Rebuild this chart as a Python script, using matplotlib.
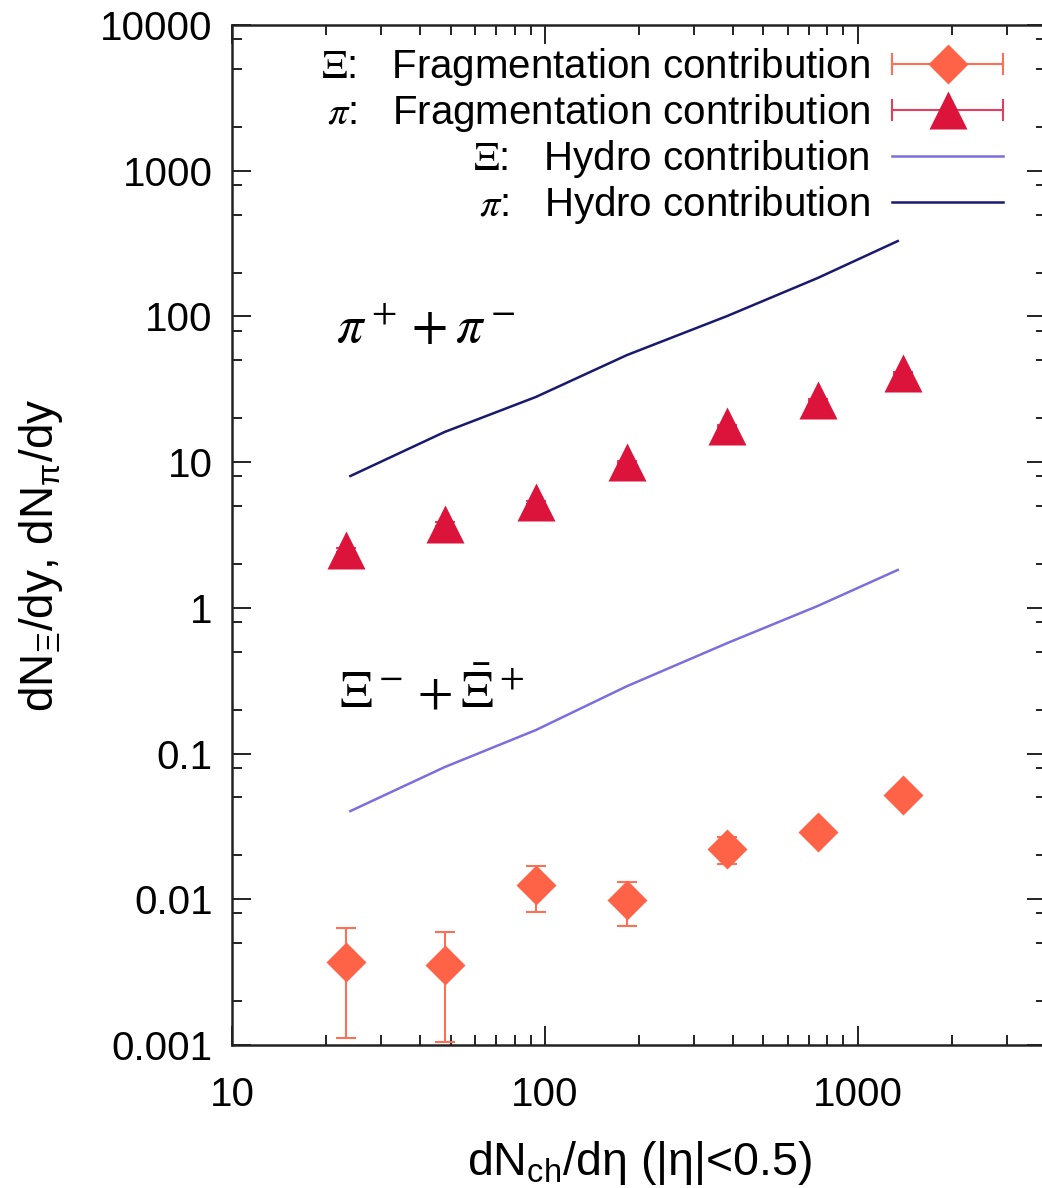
import matplotlib
matplotlib.use('Agg')
import matplotlib.pyplot as plt
from matplotlib.lines import Line2D
from matplotlib.legend_handler import HandlerBase
from matplotlib.font_manager import FontProperties
from matplotlib.ticker import LogLocator, NullFormatter

plt.rcParams['font.family'] = ['Liberation Sans', 'DejaVu Sans']
plt.rcParams['mathtext.fontset'] = 'custom'
plt.rcParams['mathtext.rm'] = 'Liberation Sans'
plt.rcParams['mathtext.it'] = 'Liberation Sans:italic'
plt.rcParams['mathtext.bf'] = 'Liberation Sans:bold'

# ---------------- data ----------------
dnch = [23.2, 47.8, 93.6, 183, 383, 745, 1394]
xi_frag = [0.00371, 0.00353, 0.0125, 0.00988, 0.0221, 0.0289, 0.0519]
xi_frag_err = [0.0026, 0.00248, 0.0043, 0.0033, 0.0046, 0.0022, 0.0030]
pi_frag = [2.49, 3.76, 5.32, 10.0, 17.7, 26.7, 40.9]
pi_frag_err = [0.08, 0.10, 0.13, 0.20, 0.30, 0.40, 0.55]
hydro_dnch = [23.9, 47.8, 93.6, 183, 383, 745, 1343]
xi_hydro = [0.0403, 0.0807, 0.145, 0.290, 0.573, 1.03, 1.82]
pi_hydro = [8.03, 16.1, 28.0, 54.3, 100.7, 183.5, 329]

xticks = [10, 100, 1000]
xticklabels = ['10', '100', '1000']
yticks = [0.001, 0.01, 0.1, 1, 10, 100, 1000, 10000]
yticklabels = ['0.001', '0.01', '0.1', '1', '10', '100', '1000', '10000']

legend_labels = [r'$\Xi$:   Fragmentation contribution',
                 r'$\pi$:   Fragmentation contribution',
                 r'$\Xi$:   Hydro contribution',
                 r'$\pi$:   Hydro contribution']

# ---------------- styles ----------------
c_xi_frag = '#ff6347'
c_xi_err = '#ff6f58'
c_pi_frag = '#dc143c'
c_pi_err = '#e0405e'
c_xi_hydro = '#7b6fe0'
c_pi_hydro = '#191970'

W, H = 1042, 1188
fig = plt.figure(figsize=(W / 100, H / 100), dpi=100)
L, R, T, B = 232, 1046, 25, 1045
ax = fig.add_axes([L / W, 1 - B / H, (R - L) / W, (B - T) / H])

ax.set_xscale('log')
ax.set_yscale('log')
ax.set_xlim(10, 4000)
ax.set_ylim(0.001, 10000)

ax.plot(hydro_dnch, xi_hydro, color=c_xi_hydro, lw=1.8, zorder=2)
ax.plot(hydro_dnch, pi_hydro, color=c_pi_hydro, lw=1.8, zorder=2)

ax.errorbar(dnch, xi_frag, yerr=xi_frag_err, fmt='D', ms=20, color=c_xi_frag,
            mec='none', ecolor=c_xi_err, elinewidth=1.5, capsize=7, capthick=1.5, zorder=3)
ax.errorbar(dnch, pi_frag, yerr=pi_frag_err, fmt='^', ms=27, color=c_pi_frag,
            mec='none', ecolor=c_pi_err, elinewidth=1.5, capsize=7, capthick=1.5, zorder=3)

ax.text(21.5, 82, r'$\pi^+ + \pi^-$', fontsize=38, math_fontfamily='stix',
        ha='left', va='center')
ax.text(22.0, 0.26, r'$\Xi^- + \bar{\Xi}^+$', fontsize=37, math_fontfamily='stix',
        ha='left', va='center')

# ticks
ax.set_xticks(xticks, xticklabels)
ax.set_yticks(yticks, yticklabels)
ax.xaxis.set_minor_locator(LogLocator(base=10, subs=(2, 3, 4, 5, 6, 7, 8, 9), numticks=20))
ax.yaxis.set_minor_locator(LogLocator(base=10, subs=(2, 5, 8), numticks=20))
ax.xaxis.set_minor_formatter(NullFormatter())
ax.yaxis.set_minor_formatter(NullFormatter())
ax.tick_params(which='both', direction='in', top=True, right=True, width=1.4, color='#222222')
ax.tick_params(which='major', length=13.5, labelsize=29)
ax.tick_params(which='minor', length=7.5)
ax.tick_params(axis='x', which='major', pad=22)
ax.tick_params(axis='y', which='major', pad=14)
for s in ax.spines.values():
    s.set_linewidth(1.8)
    s.set_color('#222222')

ax.set_xlabel(r'dN$_{\mathrm{ch}}$/dη (|η|<0.5)', fontsize=33.5, labelpad=18)
ax.set_ylabel(r'dN$_{\mathrm{Ξ}}$/dy, dN$_{\mathrm{π}}$/dy', fontsize=33)
ax.yaxis.set_label_coords(-0.205, 0.48)


# legend with horizontal error-bar samples
class HErrHandler(HandlerBase):
    def __init__(self, color, ecolor, marker, ms):
        super().__init__()
        self.color, self.ecolor, self.marker, self.ms = color, ecolor, marker, ms

    def create_artists(self, legend, orig_handle, xdescent, ydescent, width, height,
                       fontsize, trans):
        x0, x1 = -xdescent, width - xdescent
        y = (height - ydescent) / 2
        arts = [Line2D([x0, x1], [y, y], color=self.ecolor, lw=1.5),
                Line2D([x0, x0], [y - 7, y + 7], color=self.ecolor, lw=1.5),
                Line2D([x1, x1], [y - 7, y + 7], color=self.ecolor, lw=1.5),
                Line2D([(x0 + x1) / 2], [y], marker=self.marker, ms=self.ms,
                       color=self.color, mec='none', ls='none')]
        for a in arts:
            a.set_transform(trans)
        return arts


h1 = Line2D([], [], color=c_xi_frag)
h2 = Line2D([], [], color=c_pi_frag)
h3 = Line2D([], [], color=c_xi_hydro, lw=1.8)
h4 = Line2D([], [], color=c_pi_hydro, lw=1.8)
fp = FontProperties(family=['Liberation Sans', 'DejaVu Sans'], size=29, math_fontfamily='stix')
leg = ax.legend([h1, h2, h3, h4], legend_labels, loc='upper right',
                bbox_to_anchor=(1003 / W, 1 - 46 / H), bbox_transform=fig.transFigure,
                frameon=False, markerfirst=False, prop=fp, handlelength=2.75,
                handletextpad=0.55, labelspacing=0.1, borderpad=0, borderaxespad=0,
                handler_map={h1: HErrHandler(c_xi_frag, c_xi_err, 'D', 20),
                             h2: HErrHandler(c_pi_frag, c_pi_err, '^', 27)})

fig.savefig('out.png', dpi=100)
